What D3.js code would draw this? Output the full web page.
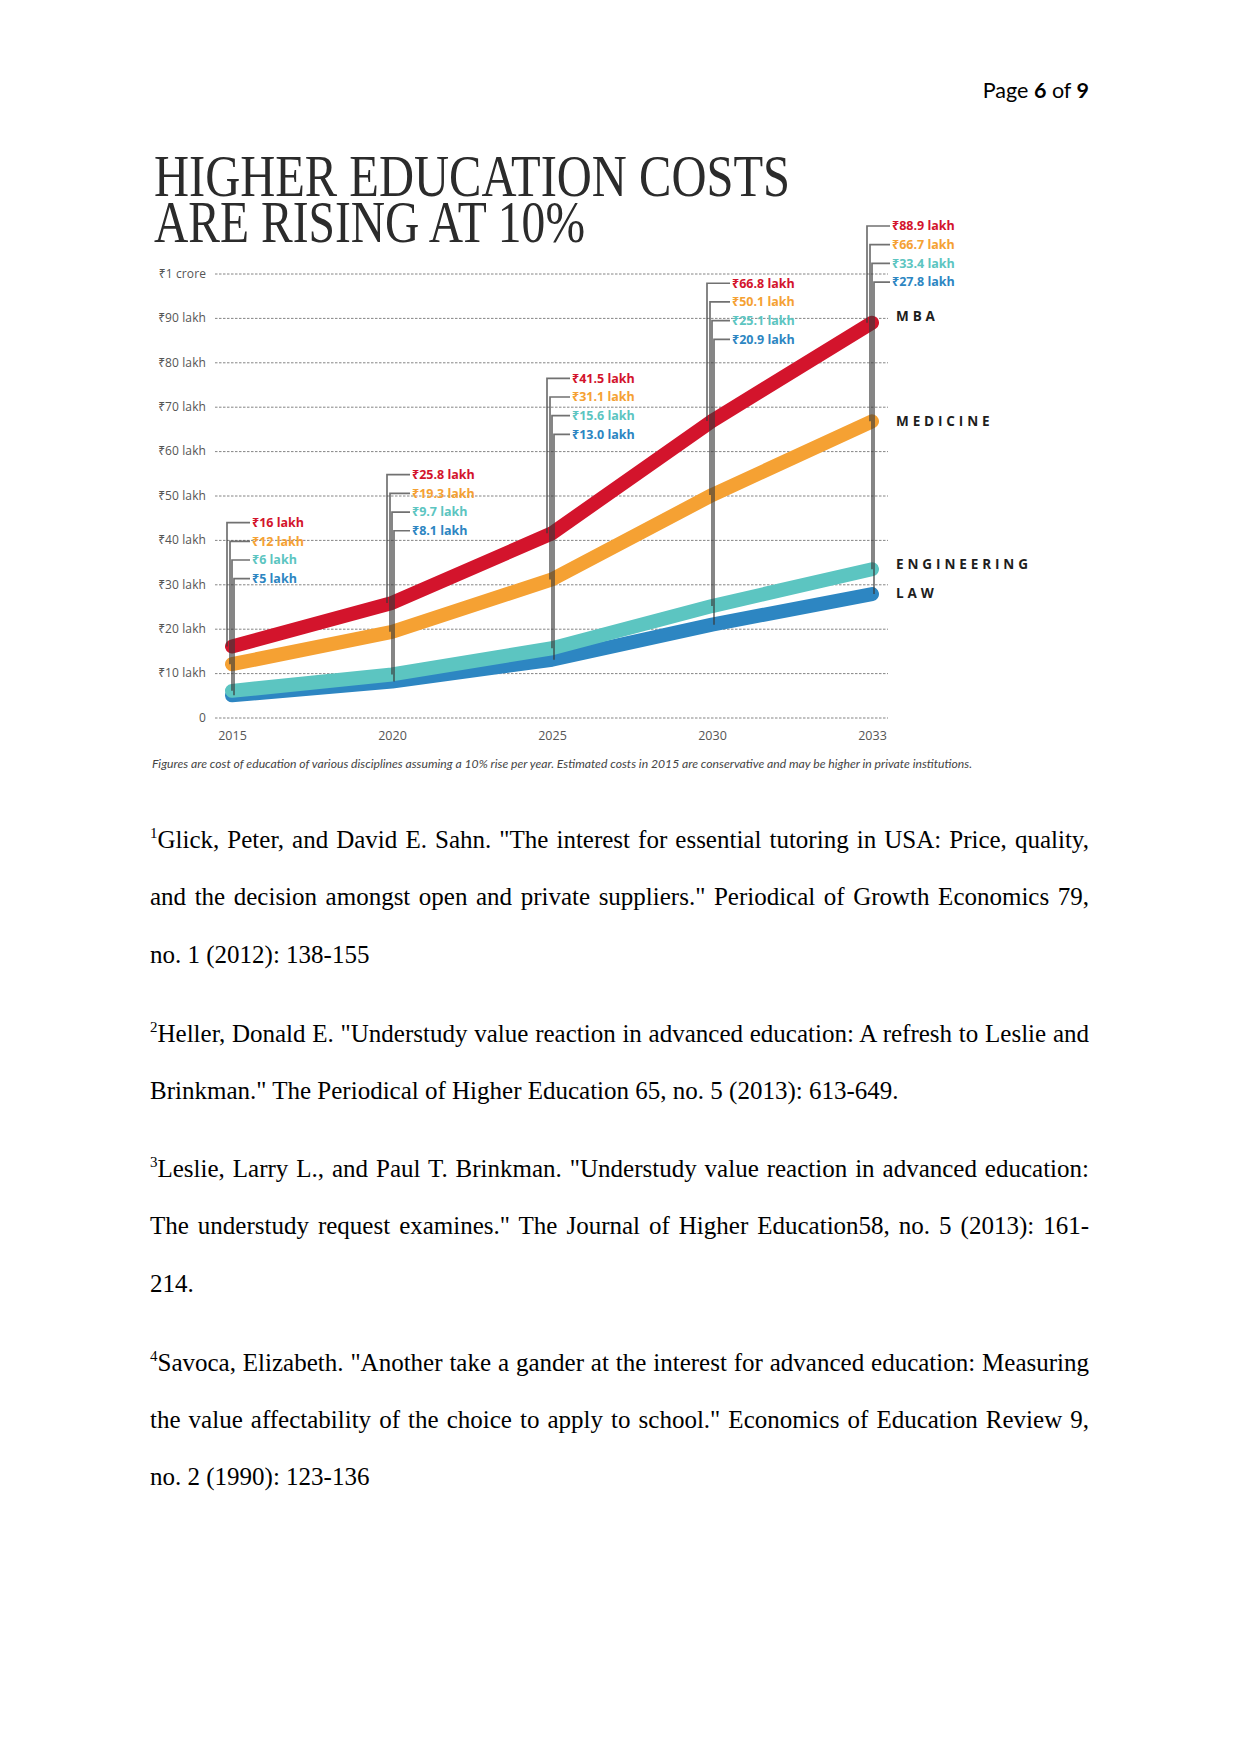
<!DOCTYPE html>
<html>
<head>
<meta charset="utf-8">
<script src="https://cdn.jsdelivr.net/npm/d3@7/dist/d3.min.js"></script>
<style>
  html, body { margin: 0; padding: 0; background: #fff; }
  svg { display: block; }
</style>
</head>
<body>
<svg id="page" width="1241" height="1754"></svg>
<script>
// ---------------- DATA ----------------
const years = [2015, 2020, 2025, 2030, 2033];
const seriesNames = ["MBA", "MEDICINE", "ENGINEERING", "LAW"];
const mba = [16, 25.8, 41.5, 66.8, 88.9];
const medicine = [12, 19.3, 31.1, 50.1, 66.7];
const engineering = [6, 9.7, 15.6, 25.1, 33.4];
const law = [5, 8.1, 13.0, 20.9, 27.8];
const yTicks = [0, 10, 20, 30, 40, 50, 60, 70, 80, 90, 100];
const yTickLabels = ["0", "₹10 lakh", "₹20 lakh", "₹30 lakh", "₹40 lakh", "₹50 lakh",
                     "₹60 lakh", "₹70 lakh", "₹80 lakh", "₹90 lakh", "₹1 crore"];
const titleLines = ["HIGHER EDUCATION COSTS", "ARE RISING AT 10%"];
const caption = "Figures are cost of education of various disciplines assuming a 10% rise per year. Estimated costs in 2015 are conservative and may be higher in private institutions.";

// ---------------- LAYOUT / STYLE ----------------
const seriesValues = [mba, medicine, engineering, law];
const seriesColors = ["#d3142c", "#f5a133", "#5cc5c1", "#2d86c2"];
const calloutTop = [43.9, 54.7, 76.4, 97.8, 110.7]; // value level of first callout label per year
const leaderOffsets = [-5, -2, 0, 2];
const nameOffsets = [-7, 0, -5, -1];
const sans = "'Open Sans', 'Noto Sans', 'DejaVu Sans', sans-serif";

const svg = d3.select("#page");
svg.append("rect").attr("width", 1241).attr("height", 1754).attr("fill", "#fff");

// header
const hdr = svg.append("text").attr("x", 1089).attr("y", 98).attr("text-anchor", "end")
  .attr("font-family", "Lato, 'Open Sans', sans-serif").attr("font-size", 21.5).attr("fill", "#000");
hdr.append("tspan").text("Page ");
hdr.append("tspan").attr("font-weight", "bold").text("6");
hdr.append("tspan").text(" of ");
hdr.append("tspan").attr("font-weight", "bold").text("9");

// title
const titleWidths = [636, 431];
titleLines.forEach((t, i) => {
  svg.append("text").attr("x", 154).attr("y", 196 + i * 46)
    .attr("font-family", "'Liberation Serif', 'DejaVu Serif', serif")
    .attr("font-size", 60).attr("fill", "#2b2b2b")
    .attr("textLength", titleWidths[i]).attr("lengthAdjust", "spacingAndGlyphs")
    .text(t);
});

// scales
const x = d3.scalePoint().domain(years).range([232, 872]);
const y = d3.scaleLinear().domain([0, 100]).range([717.5, 273.5]);

// y axis + grid
const gx0 = 215, gx1 = 888;
const yAxis = svg.append("g").attr("transform", `translate(${gx0},0)`)
  .call(d3.axisLeft(y).tickValues(yTicks).tickFormat((d, i) => yTickLabels[i])
        .tickSize(-(gx1 - gx0)).tickPadding(9));
yAxis.select(".domain").remove();
yAxis.selectAll(".tick line").attr("stroke", "#777").attr("stroke-width", 0.9)
  .attr("stroke-dasharray", "2.5,1.5");
yAxis.selectAll(".tick text").attr("font-family", sans).attr("font-size", 12)
  .attr("fill", "#555").attr("letter-spacing", 0.1);

// x axis
const xAxis = svg.append("g").attr("transform", `translate(0,${y(0)})`)
  .call(d3.axisBottom(x).tickSize(0).tickPadding(14));
xAxis.select(".domain").remove();
xAxis.selectAll(".tick text").attr("font-family", sans).attr("font-size", 12.5).attr("fill", "#555");

// lines (law first so MBA ends on top)
const line = d3.line().x((d, i) => x(years[i])).y(d => y(d));
[3, 2, 1, 0].forEach(s => {
  svg.append("path").datum(seriesValues[s])
    .attr("d", line).attr("fill", "none")
    .attr("stroke", seriesColors[s]).attr("stroke-width", 14)
    .attr("stroke-linecap", "round").attr("stroke-linejoin", "round");
});

// callouts
const fmt = (v, yi) => "₹" + (yi === 0 ? String(v) : v.toFixed(1)) + " lakh";
years.forEach((yr, yi) => {
  const cx = x(yr);
  const top = y(calloutTop[yi]);
  seriesValues.forEach((vals, s) => {
    const ly = top + s * 18.7;
    const lx = cx + leaderOffsets[s];
    svg.append("path")
      .attr("d", `M${lx},${y(vals[yi])}V${ly}H${cx + 18}`)
      .attr("fill", "none").attr("stroke", "#3a3a3a").attr("stroke-width", 1.7)
      .attr("stroke-opacity", 0.72);
    svg.append("text").attr("x", cx + 20).attr("y", ly).attr("dy", "0.35em")
      .attr("font-family", sans).attr("font-weight", "bold").attr("font-size", 12.5)
      .attr("fill", seriesColors[s]).text(fmt(vals[yi], yi));
  });
});

// series names
seriesNames.forEach((n, s) => {
  const v = seriesValues[s][years.length - 1];
  svg.append("text").attr("x", 896).attr("y", y(v) + nameOffsets[s]).attr("dy", "0.35em")
    .attr("font-family", sans).attr("font-weight", "bold").attr("font-size", 13.5)
    .attr("letter-spacing", 3.9).attr("fill", "#1e1e1e").text(n);
});

// caption
svg.append("text").attr("x", 152).attr("y", 767.5)
  .attr("font-family", "Lato, 'Open Sans', sans-serif").attr("font-style", "italic")
  .attr("font-size", 10.5).attr("fill", "#444")
  .attr("textLength", 820).attr("lengthAdjust", "spacingAndGlyphs").text(caption);

// references
const refs = [
  { n: "1", base: 848, lines: [
    "Glick, Peter, and David E. Sahn. \"The interest for essential tutoring in USA: Price, quality,",
    "and the decision amongst open and private suppliers.\" Periodical of Growth Economics 79,",
    "no. 1 (2012): 138-155"] },
  { n: "2", base: 1041.5, lines: [
    "Heller, Donald E. \"Understudy value reaction in advanced education: A refresh to Leslie and",
    "Brinkman.\" The Periodical of Higher Education 65, no. 5 (2013): 613-649."] },
  { n: "3", base: 1177, lines: [
    "Leslie, Larry L., and Paul T. Brinkman. \"Understudy value reaction in advanced education:",
    "The understudy request examines.\" The Journal of Higher Education58, no. 5 (2013): 161-",
    "214."] },
  { n: "4", base: 1370.5, lines: [
    "Savoca, Elizabeth. \"Another take a gander at the interest for advanced education: Measuring",
    "the value affectability of the choice to apply to school.\" Economics of Education Review 9,",
    "no. 2 (1990): 123-136"] }
];
const left = 150, right = 1089, lh = 57.4;
refs.forEach(r => {
  r.lines.forEach((ln, i) => {
    const t = svg.append("text").attr("x", left).attr("y", r.base + i * lh)
      .attr("font-family", "'Liberation Serif', 'Times New Roman', serif")
      .attr("font-size", 25).attr("fill", "#000");
    if (i === 0) {
      t.append("tspan").attr("font-size", 15).attr("dy", -10).text(r.n);
      t.append("tspan").attr("dy", 10).text(ln);
    } else {
      t.text(ln);
    }
    if (i < r.lines.length - 1) {
      const len = t.node().getComputedTextLength();
      const spaces = (ln.match(/ /g) || []).length;
      if (spaces > 0) t.attr("word-spacing", ((right - left) - len) / spaces);
    }
  });
});
</script>
</body>
</html>
